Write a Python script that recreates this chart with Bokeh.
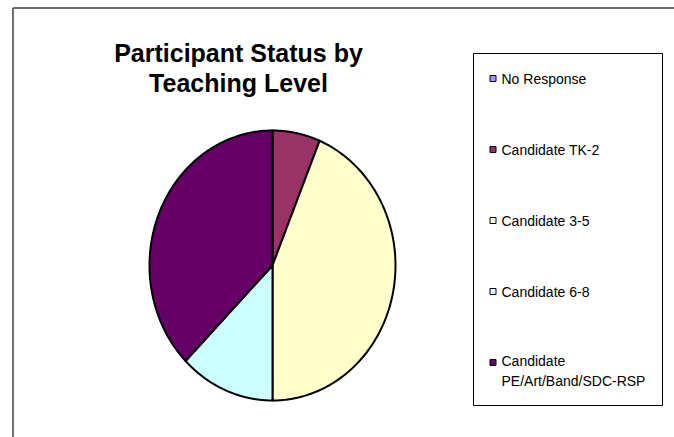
import numpy as np
from bokeh.plotting import figure
from bokeh.models import Range1d
from bokeh.embed import file_html
from bokeh.resources import INLINE
from bokeh.core.properties import value

# ---- data ----
categories = ["No Response", "Candidate TK-2", "Candidate 3-5", "Candidate 6-8",
              "Candidate PE/Art/Band/SDC-RSP"]
legend_labels = ["No Response", "Candidate TK-2", "Candidate 3-5", "Candidate 6-8",
                 "Candidate\nPE/Art/Band/SDC-RSP"]
counts = [0, 1, 7, 2, 6]
colors = ["#9999FF", "#993366", "#FFFFCC", "#CCFFFF", "#660066"]
title_lines = ["Participant Status by", "Teaching Level"]

# ---- layout (pixel coordinates, y downward) ----
W, H = 674, 437
p = figure(width=W, height=H, x_range=Range1d(0, W), y_range=Range1d(H, 0),
           output_backend="svg", toolbar_location=None, min_border=0,
           x_axis_type=None, y_axis_type=None)
p.grid.visible = False
p.outline_line_color = None
p.background_fill_color = "white"

FONT = "Liberation Sans"

# outer chart frame
p.multi_line(xs=[[12.5, 12.5], [12.5, 700]], ys=[[460, 7.5], [7.5, 7.5]],
             line_color="#404040", line_width=1.5)

# title
p.text(x=[238, 238], y=[52, 82], text=title_lines, text_align="center",
       text_baseline="alphabetic", text_font=value(FONT), text_font_style="bold",
       text_font_size="25px", text_color="black")

# pie (elliptical, clockwise from 12 o'clock)
cx, cy, rx, ry = 272, 265, 123, 135
total = float(sum(counts))
cum = np.concatenate([[0.0], np.cumsum(counts)]) / total * 2 * np.pi
xs, ys, fc = [], [], []
for i, c in enumerate(counts):
    if c <= 0:
        continue
    t = np.linspace(cum[i], cum[i + 1], 200)
    xs.append([cx] + list(cx + rx * np.sin(t)) + [cx])
    ys.append([cy] + list(cy - ry * np.cos(t)) + [cy])
    fc.append(colors[i])
p.patches(xs=xs, ys=ys, fill_color=fc, line_color="black", line_width=2,
          line_join="round")

# legend
p.quad(left=[473], right=[662], top=[53], bottom=[405], fill_color="white",
       line_color="black", line_width=1)
item_y = [78 + 71 * i for i in range(len(legend_labels))]
p.scatter(x=[492.5] * len(colors), y=item_y, marker="square", size=6,
          fill_color=colors, line_color="black", line_width=1)
text_y = [y + 8.5 * (lab.count("\n")) for y, lab in zip(item_y, legend_labels)]
p.text(x=[501] * len(legend_labels), y=text_y, text=legend_labels, text_align="left",
       text_baseline="middle", text_font=value(FONT), text_font_size="14px",
       text_line_height=1.2, text_color="black")

open("out.html", "w").write(file_html(p, INLINE))
